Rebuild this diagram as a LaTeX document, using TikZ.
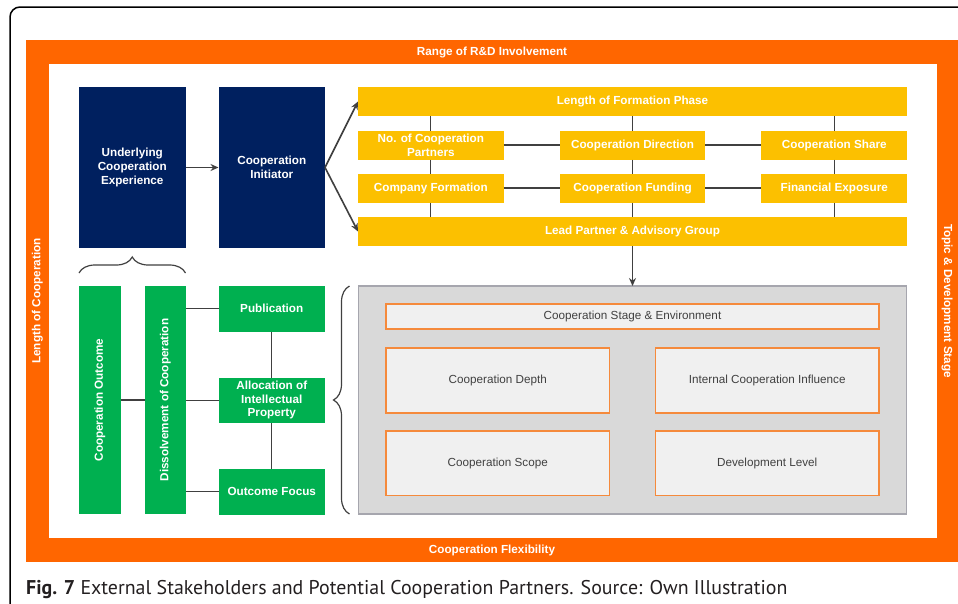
\documentclass[tikz,border=0pt]{standalone}
\usepackage{fontspec}
\setmainfont{Liberation Sans}
\newfontfamily\capfont{PT Sans}
\usepackage{xcolor}
\usepackage{graphicx}
\usepackage{tikz}
\usetikzlibrary{shapes.geometric, arrows}
\usetikzlibrary{positioning, arrows.meta, decorations.pathreplacing}

\definecolor{navy}{HTML}{00205F}
\definecolor{gold}{HTML}{FCC000}
\definecolor{leafgreen}{HTML}{00B050}
\definecolor{frameorange}{HTML}{FF6600}
\definecolor{lineorange}{HTML}{F58A3C}
\definecolor{boxgray}{HTML}{D9D9D9}
\definecolor{edgegray}{HTML}{A6A6AE}
\definecolor{factorfill}{HTML}{F0F0F0}
\definecolor{linkgray}{HTML}{404040}
\definecolor{captext}{HTML}{231F20}

\newcommand{\boldlabel}{\fontsize{11.7}{13.7}\selectfont\bfseries}
\newcommand{\plainlabel}{\fontsize{11.7}{13.7}\selectfont}

\tikzstyle{navybox} = [rectangle, minimum width=106.5pt, minimum height=161pt, inner sep=0pt, outer sep=0pt, align=center, fill=navy, text=white, font=\boldlabel]
\tikzstyle{goldbar} = [rectangle, minimum width=549pt, minimum height=29pt, inner sep=0pt, outer sep=0pt, align=center, fill=gold, text=white, font=\boldlabel]
\tikzstyle{goldbox} = [goldbar, minimum width=145.7pt]
\tikzstyle{greenbox} = [rectangle, minimum width=106.5pt, minimum height=45.5pt, inner sep=0pt, outer sep=0pt, align=center, fill=leafgreen, text=white, font=\boldlabel]
\tikzstyle{greenbar} = [greenbox, minimum width=41.5pt, minimum height=228pt]
\tikzstyle{ctxbox} = [rectangle, minimum width=548pt, minimum height=228pt, inner sep=0pt, outer sep=0pt, draw=edgegray, line width=1.2pt, fill=boxgray]
\tikzstyle{factorbox} = [rectangle, minimum width=223.5pt, minimum height=65pt, inner sep=0pt, outer sep=0pt, draw=lineorange, line width=1.2pt, fill=factorfill, text=linkgray, font=\plainlabel]
\tikzstyle{framelabel} = [inner sep=0pt, text=white, font=\boldlabel]
\tikzstyle{arrow} = [line width=1.6pt, draw=linkgray, -{Stealth[length=8pt, width=7pt]}]
\tikzstyle{link} = [line width=1.2pt, draw=linkgray]
\tikzstyle{bracket} = [line width=1.2pt, draw=linkgray, decorate, decoration={brace, amplitude=16pt}]

\begin{document}
\begin{tikzpicture}[x=1pt, y=-1pt]
        \useasboundingbox (0,0) rectangle (958,603);

        % Frame
        \draw [line width=1.5pt, rounded corners=10pt] (10,606) -- (10,7) -- (961,7);
        \fill [frameorange] (26,40) rectangle (958,562);
        \fill [white] (49,64) rectangle (937,538);
        \node (range) [framelabel] at (492,52) {Range of R\&D Involvement};
        \node (flex) [framelabel] at (492,550) {Cooperation Flexibility};
        \node (length) [framelabel, rotate=90] at (37.5,301) {Length of Cooperation};
        \node (topic) [framelabel, rotate=-90] at (947,301) {Topic \& Development Stage};

        % Initiator
        \node (under) [navybox, anchor=north west] at (79,87) {Underlying\\Cooperation\\Experience};
        \node (init) [navybox, right=33pt of under] {Cooperation\\Initiator};

        % Formation
        \node (lfp) [goldbar, right=33pt of init.north east, anchor=north west] {Length of Formation Phase};
        \node (npart) [goldbox, below=14.5pt of lfp.south west, anchor=north west] {No. of Cooperation\\Partners};
        \node (cform) [goldbox, below=14pt of npart] {Company Formation};
        \node (lead) [goldbar, below=14.5pt of cform.south west, anchor=north west] {Lead Partner \& Advisory Group};
        \node (cdir) [goldbox, right=56pt of npart] {Cooperation Direction};
        \node (cshare) [goldbox, right=56pt of cdir] {Cooperation Share};
        \node (cfund) [goldbox, right=56pt of cform] {Cooperation Funding};
        \node (fexp) [goldbox, right=56pt of cfund] {Financial Exposure};

        % Context
        \node (ctx) [ctxbox, below=40pt of lead] {};
        \node (stage) [factorbox, minimum width=493pt, minimum height=25pt, below=18pt of ctx.north] {Cooperation Stage \& Environment};
        \node (depth) [factorbox, below=19pt of stage.south west, anchor=north west] {Cooperation Depth};
        \node (infl) [factorbox, below=19pt of stage.south east, anchor=north east] {Internal Cooperation Influence};
        \node (scope) [factorbox, minimum height=64.5pt, below=18pt of depth] {Cooperation Scope};
        \node (devel) [factorbox, minimum height=64.5pt, below=18pt of infl] {Development Level};

        % Outcome
        \node (cout) [greenbar, below=38pt of under.south west, anchor=north west] {\rotatebox{90}{Cooperation Outcome}};
        \node (diss) [greenbar, right=24pt of cout] {\rotatebox{90}{Dissolvement of Cooperation}};
        \node (pub) [greenbox, below=38pt of init.south west, anchor=north west] {Publication};
        \node (alloc) [greenbox, below=46pt of pub] {Allocation of\\Intellectual\\Property};
        \node (focus) [greenbox, below=46pt of alloc] {Outcome Focus};

        % Arrows
        \draw [arrow] (under) -- (init);
        \draw [arrow] (init.east) -- (lfp.west);
        \draw [arrow] (init.east) -- (lead.west);
        \draw [arrow] (lead) -- (ctx);

        % Links
        \draw [link] (npart.north) -- (npart.north |- lfp.south);
        \draw [link] (npart) -- (cform);
        \draw [link] (cform.south) -- (cform.south |- lead.north);
        \draw [link] (cdir.north) -- (cdir.north |- lfp.south);
        \draw [link] (cdir) -- (cfund);
        \draw [link] (cfund.south) -- (cfund.south |- lead.north);
        \draw [link] (cshare.north) -- (cshare.north |- lfp.south);
        \draw [link] (cshare) -- (fexp);
        \draw [link] (fexp.south) -- (fexp.south |- lead.north);
        \draw [link] (npart) -- (cdir);
        \draw [link] (cdir) -- (cshare);
        \draw [link] (cform) -- (cfund);
        \draw [link] (cfund) -- (fexp);

        \draw [link] (cout) -- (diss);
        \draw [link] (pub.west) -- (pub.west -| diss.east);
        \draw [link] (alloc.west) -- (alloc.west -| diss.east);
        \draw [link] (focus.west) -- (focus.west -| diss.east);
        \draw [link] (pub) -- (alloc);
        \draw [link] (alloc) -- (focus);

        % Braces
        \draw [bracket] ([yshift=-25pt]under.south west) -- ([yshift=-25pt]under.south east);
        \draw [bracket] ([xshift=-9pt]ctx.south west) -- ([xshift=-9pt]ctx.north west);

        % Caption
        \node (caption) [anchor=base west, inner sep=0pt, text=captext, font=\capfont\fontsize{19.9}{23}\selectfont] at (26,594) {\textbf{Fig. 7} External Stakeholders and Potential Cooperation Partners. Source: Own Illustration};

    \end{tikzpicture}
\end{document}
